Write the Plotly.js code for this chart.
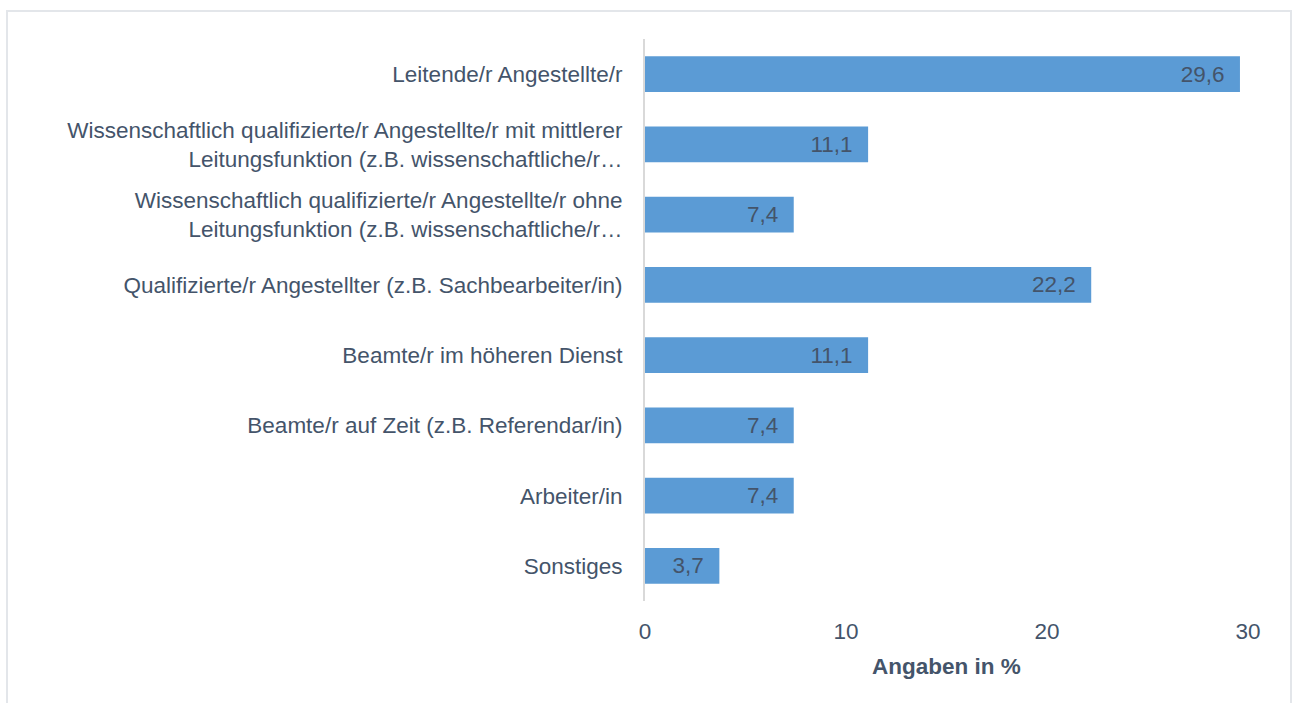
<!DOCTYPE html>
<html>
<head>
<meta charset="utf-8">
<script src="https://cdn.plot.ly/plotly-3.0.1.min.js"></script>
<style>
  html, body { margin: 0; padding: 0; background: #ffffff; }
  #frame { position: absolute; left: 6px; top: 10px; width: 1282px; height: 720px; border: 2px solid #e3e6ea; pointer-events: none; z-index: 2; }
  #chart { position: absolute; left: 0; top: 0; width: 1292px; height: 703px; }
</style>
</head>
<body>
<div id="chart"></div>
<div id="frame"></div>
<script>
const categories = [
  "Leitende/r Angestellte/r",
  "Wissenschaftlich qualifizierte/r Angestellte/r mit mittlerer<br>Leitungsfunktion (z.B. wissenschaftliche/r…",
  "Wissenschaftlich qualifizierte/r Angestellte/r ohne<br>Leitungsfunktion (z.B. wissenschaftliche/r…",
  "Qualifizierte/r Angestellter (z.B. Sachbearbeiter/in)",
  "Beamte/r im höheren Dienst",
  "Beamte/r auf Zeit (z.B. Referendar/in)",
  "Arbeiter/in",
  "Sonstiges"
];
const values = [29.6, 11.1, 7.4, 22.2, 11.1, 7.4, 7.4, 3.7];
const tickValues = [0, 10, 20, 30];
const tickLabels = ["0", "10", "20", "30"];
const axisTitle = "Angaben in %";

const textColor = "#44546a";
const fontFamily = "Liberation Sans, Arial, sans-serif";

const trace = {
  type: "bar",
  orientation: "h",
  x: values,
  y: categories,
  width: 0.51,
  marker: { color: "#5b9bd5", line: { width: 0 } },
  text: values.map(v => v.toFixed(1).replace(".", ",") + "\u00a0\u00a0"),
  textposition: "inside",
  insidetextanchor: "end",
  textfont: { family: fontFamily, size: 22.5, color: textColor },
  constraintext: "none",
  hoverinfo: "x+y"
};

const layout = {
  width: 1292,
  height: 703,
  paper_bgcolor: "#ffffff",
  plot_bgcolor: "#ffffff",
  showlegend: false,
  margin: { l: 645, r: 44, t: 39, b: 102, pad: 0 },
  font: { family: fontFamily, size: 22.5, color: textColor },
  xaxis: {
    range: [0, 30],
    tickvals: tickValues,
    ticktext: tickLabels,
    showgrid: false,
    zeroline: false,
    showline: false,
    ticks: "",
    ticklabelstandoff: 14,
    tickfont: { family: fontFamily, size: 22.5, color: textColor },
    title: { text: axisTitle, font: { family: fontFamily, size: 22.5, color: textColor, weight: "bold" }, standoff: 15 },
    fixedrange: true
  },
  yaxis: {
    autorange: "reversed",
    type: "category",
    showgrid: false,
    zeroline: false,
    showline: true,
    linecolor: "#d9d9d9",
    linewidth: 2,
    ticks: "",
    ticklabelstandoff: 16,
    tickfont: { family: fontFamily, size: 22.5, color: textColor },
    fixedrange: true
  }
};

Plotly.newPlot("chart", [trace], layout, { displayModeBar: false, staticPlot: true });
</script>
</body>
</html>
